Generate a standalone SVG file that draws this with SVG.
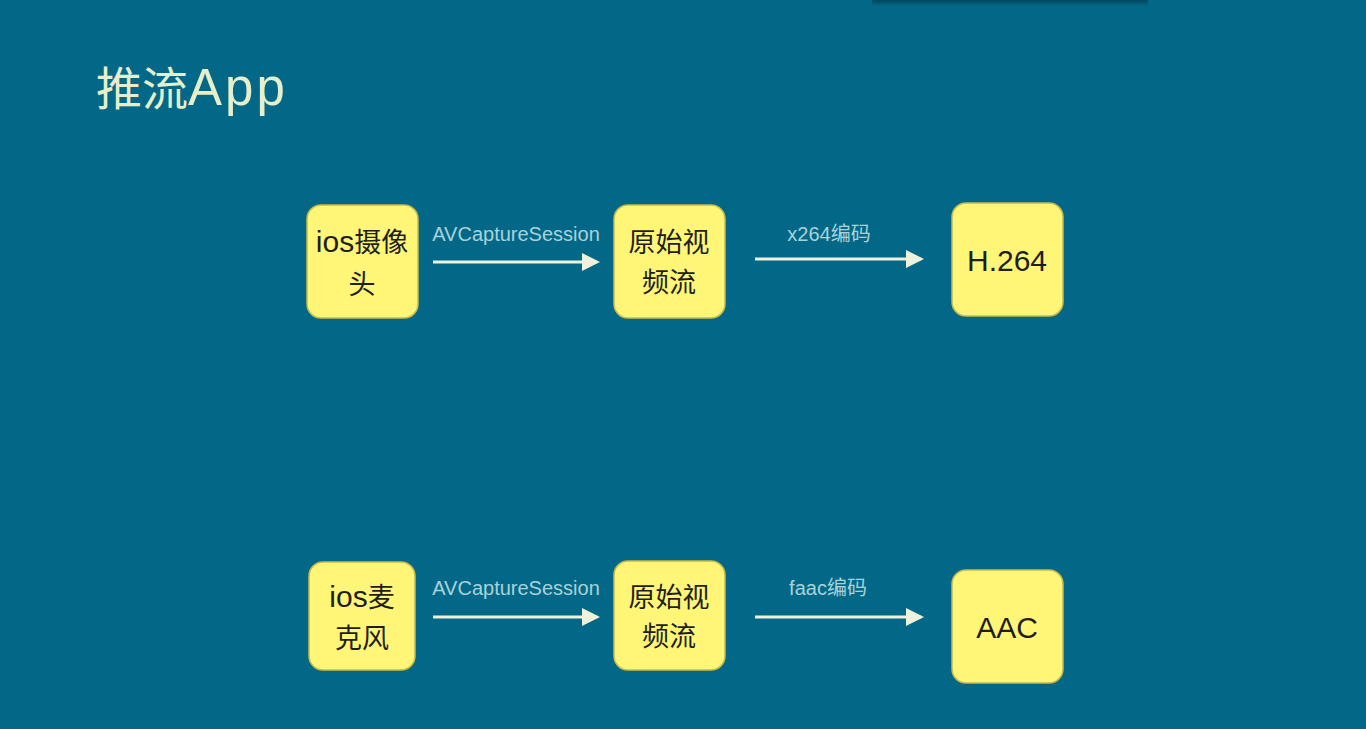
<svg xmlns="http://www.w3.org/2000/svg" width="1366" height="729" viewBox="0 0 1366 729">
<defs>
<style>
.bg{fill:#036887}
.node rect{fill:#FFF678;stroke:#C9B94A;stroke-width:1.5}
.node text{font-family:"Liberation Sans","Noto Sans CJK SC",sans-serif;font-size:27px;fill:#1e1e1e;text-anchor:middle}
.node .l{font-size:30px}
.conn line{stroke:#EEF2DC;stroke-width:3}
.lbl{font-family:"Liberation Sans","Noto Sans CJK SC",sans-serif;font-size:20px;fill:#A9D2D8;text-anchor:middle}
.title{font-family:"Noto Sans CJK SC","Liberation Sans",sans-serif;font-size:46px;fill:#E6EFC9}
</style>
<marker id="arr" markerWidth="6" markerHeight="6" refX="5" refY="3" orient="auto" markerUnits="strokeWidth">
<path d="M0,0 L6,3 L0,6 z" fill="#EEF2DC"/>
</marker>
<linearGradient id="shadow" x1="0" y1="0" x2="0" y2="1">
<stop offset="0" stop-color="#00384a" stop-opacity="0.7"/>
<stop offset="1" stop-color="#00384a" stop-opacity="0"/>
</linearGradient>
</defs>
<rect class="bg" x="0" y="0" width="1366" height="729"/>
<rect x="872" y="0" width="276" height="6" fill="url(#shadow)"/>
<text class="title" x="96" y="105">推流<tspan font-family="Liberation Sans" font-size="51" letter-spacing="3">App</tspan></text>

<g id="conns" class="conn">
<line x1="433" y1="262" x2="597" y2="262" marker-end="url(#arr)"/>
<line x1="755" y1="259" x2="921" y2="259" marker-end="url(#arr)"/>
<line x1="433" y1="617" x2="597" y2="617" marker-end="url(#arr)"/>
<line x1="755" y1="617" x2="921" y2="617" marker-end="url(#arr)"/>
<text class="lbl" x="516" y="241">AVCaptureSession</text>
<text class="lbl" x="829" y="241">x264编码</text>
<text class="lbl" x="516" y="595">AVCaptureSession</text>
<text class="lbl" x="828" y="595">faac编码</text>
</g>

<g id="n1" class="node"><rect x="307" y="205" width="111" height="113" rx="14"/><text x="362" y="252"><tspan class="l">ios</tspan>摄像</text><text x="362" y="294">头</text></g>
<g id="n2" class="node"><rect x="614" y="205" width="111" height="113" rx="14"/><text x="669" y="252">原始视</text><text x="669" y="292">频流</text></g>
<g id="n3" class="node"><rect x="952" y="203" width="111" height="113" rx="14"/><text class="l" x="1007" y="271">H.264</text></g>
<g id="n4" class="node"><rect x="309" y="562" width="106" height="108" rx="14"/><text x="362" y="607"><tspan class="l">ios</tspan>麦</text><text x="362" y="648">克风</text></g>
<g id="n5" class="node"><rect x="614" y="561" width="111" height="109" rx="14"/><text x="669" y="607">原始视</text><text x="669" y="646">频流</text></g>
<g id="n6" class="node"><rect x="952" y="570" width="111" height="113" rx="14"/><text class="l" x="1007" y="638">AAC</text></g>
</svg>
